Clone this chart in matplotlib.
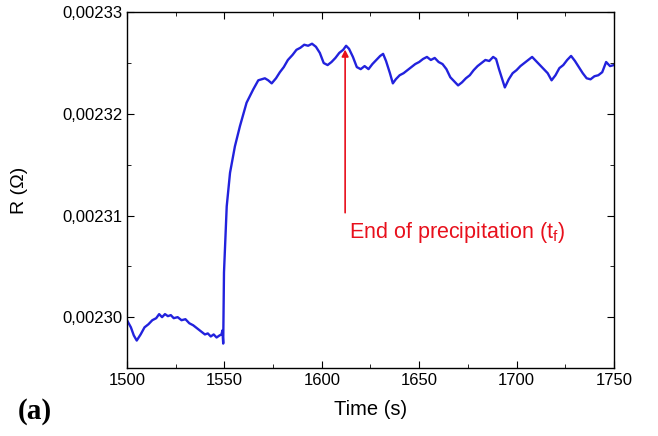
import numpy as np
import matplotlib.pyplot as plt
from matplotlib.ticker import FuncFormatter, MultipleLocator

plt.rcParams['font.family'] = ['Liberation Sans', 'DejaVu Sans']

# time (s) and resistance (in 1e-7 Ohm)
t = [1500, 1502, 1503.5, 1505, 1507, 1509, 1511, 1513, 1515, 1516.5,
     1518, 1519.5, 1521, 1522.5, 1524, 1526, 1528, 1530, 1532, 1534,
     1536, 1538, 1540, 1541.5, 1543, 1544.5, 1546, 1547.5, 1548.5, 1549,
     1549.4, 1549.8, 1551.2, 1552.9, 1555.4, 1558, 1561.4, 1564.8, 1567.4, 1570.8,
     1572.5, 1574.3, 1576.5, 1578.5, 1580.5, 1582.6, 1585, 1587, 1589, 1591,
     1593, 1595, 1597, 1599, 1601, 1603, 1605, 1607, 1609, 1611,
     1612.5, 1614, 1616, 1618, 1620, 1622, 1624, 1626, 1628, 1630,
     1631.5, 1633, 1635, 1636.5, 1638, 1640, 1642, 1644, 1646, 1648,
     1650, 1652, 1654, 1656, 1658, 1660, 1662, 1664, 1666, 1668,
     1670, 1672, 1674, 1676, 1678, 1680, 1682, 1684, 1686, 1688,
     1689.5, 1691, 1692.5, 1694, 1696, 1698, 1700, 1702, 1704, 1706,
     1708, 1710, 1712, 1714, 1716, 1718, 1720, 1722, 1724, 1726,
     1728, 1730, 1732, 1734, 1736, 1738, 1740, 1742, 1744, 1746,
     1748, 1750]
r = [22997, 22990, 22982, 22977, 22983, 22990, 22993, 22997, 22999, 23003,
     23000, 23003, 23001, 23002, 22999, 23000, 22997, 22998, 22994, 22992,
     22989, 22986, 22983, 22984, 22981, 22983, 22980, 22982, 22983, 22987,
     22974, 23044, 23109, 23142, 23168, 23188, 23211, 23224, 23233, 23235,
     23233, 23230, 23235, 23241, 23246, 23253, 23258, 23263, 23265, 23268,
     23267, 23269, 23266, 23260, 23250, 23248, 23251, 23255, 23260, 23263,
     23267, 23264, 23256, 23246, 23244, 23247, 23244, 23249, 23253, 23257,
     23259, 23252, 23240, 23230, 23234, 23238, 23240, 23243, 23246, 23249,
     23251, 23254, 23256, 23253, 23255, 23251, 23249, 23244, 23236, 23232,
     23228, 23231, 23235, 23238, 23243, 23247, 23250, 23253, 23252, 23256,
     23254, 23244, 23235, 23226, 23234, 23240, 23243, 23247, 23250, 23253,
     23256, 23252, 23248, 23244, 23240, 23233, 23238, 23245, 23248, 23253,
     23257, 23252, 23246, 23240, 23235, 23234, 23237, 23238, 23241, 23251,
     23247, 23248]
r = np.array(r) * 1e-7

arrow_t = 1612
arrow_from, arrow_to = 0.0023100, 0.0023266

fig = plt.figure(figsize=(6.58, 4.36), dpi=100)
ax = fig.add_axes([0.193, 0.156, 0.74, 0.816])
ax.plot(t, r, color='#2222dd', lw=1.7)

ax.annotate('', xy=(arrow_t, arrow_to), xytext=(arrow_t, arrow_from),
            arrowprops=dict(arrowstyle='-|>', color='#e8101c', lw=1.2, mutation_scale=10))
ax.text(arrow_t + 2, 0.0023083, 'End of precipitation (t$_\\mathregular{f}$)',
        color='#e8101c', fontsize=15.5, va='center')

ax.set_xlim(1500, 1750)
ax.set_ylim(0.002295, 0.00233)
ax.xaxis.set_major_locator(MultipleLocator(50))
ax.xaxis.set_minor_locator(MultipleLocator(25))
ax.yaxis.set_major_locator(MultipleLocator(0.00001))
ax.yaxis.set_minor_locator(MultipleLocator(0.000005))
ax.yaxis.set_major_formatter(FuncFormatter(lambda v, p: f'{v:.5f}'.replace('.', ',')))
ax.tick_params(which='both', direction='in', top=True, right=True, labelsize=12)
ax.tick_params(which='major', length=5)
ax.tick_params(which='minor', length=3)
for s in ax.spines.values():
    s.set_linewidth(1.0)

ax.set_xlabel('Time (s)', fontsize=14.5)
ax.set_ylabel('R (Ω)', fontsize=14)
ax.xaxis.set_label_coords(0.5, -0.09)
ax.yaxis.set_label_coords(-0.203, 0.5)
fig.text(0.027, 0.04, '(a)', fontsize=21, fontweight='bold', family='Liberation Serif')

fig.savefig('out.png', dpi=100)
